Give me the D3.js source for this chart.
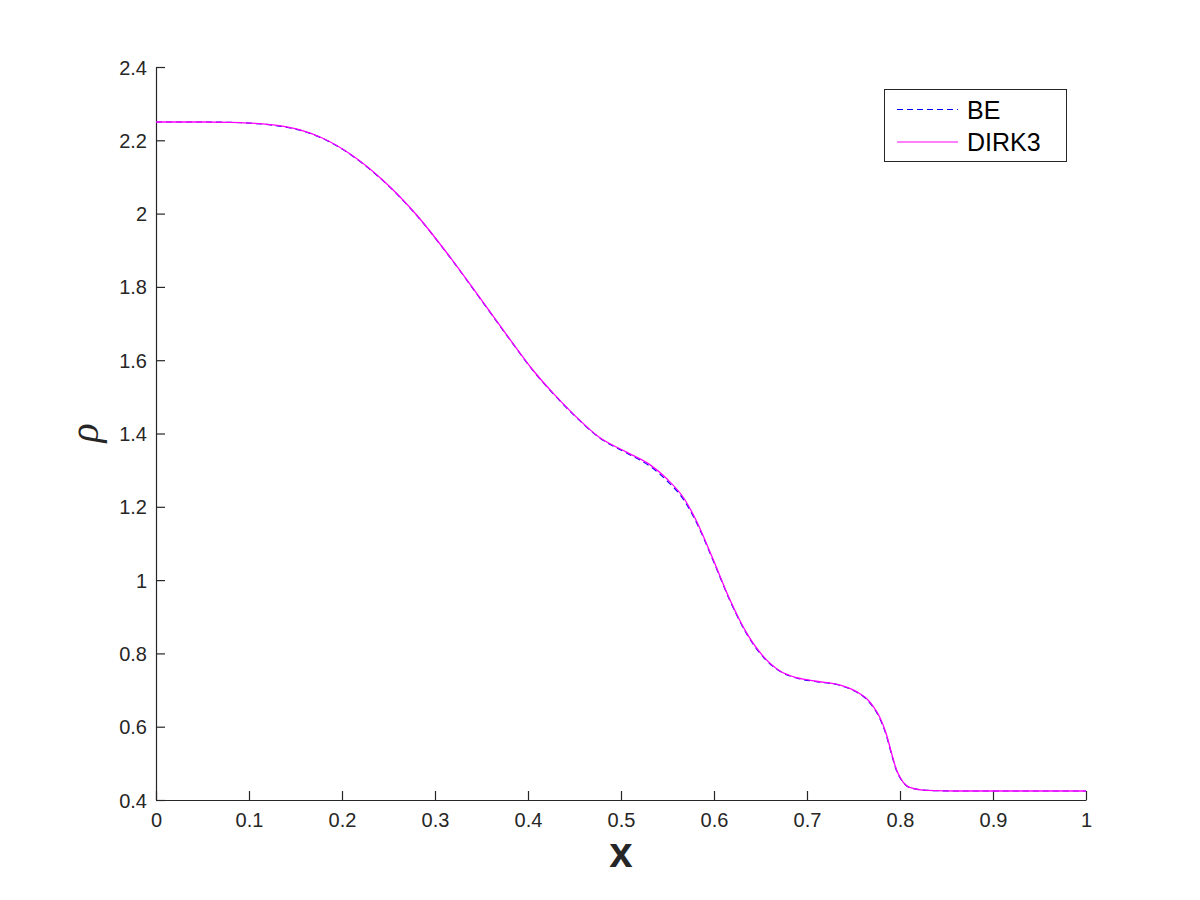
<!DOCTYPE html>
<html>
<head>
<meta charset="utf-8">
<script src="https://cdn.jsdelivr.net/npm/d3@7"></script>
<style>
  html, body { margin: 0; padding: 0; background: #fff; }
  svg { display: block; }
</style>
</head>
<body>
<svg id="chart" width="1200" height="900"></svg>
<script>
// ---- data ----
const xValues = [0, 0.05, 0.08, 0.1, 0.126, 0.154, 0.18, 0.208, 0.244, 0.28, 0.316, 0.352, 0.38, 0.405, 0.427, 0.448, 0.477, 0.506, 0.531, 0.549, 0.568, 0.581, 0.599, 0.617, 0.635, 0.653, 0.671, 0.69, 0.71, 0.735, 0.749, 0.757, 0.764, 0.771, 0.778, 0.785, 0.791, 0.796, 0.8, 0.807, 0.815, 0.825, 0.84, 0.861, 0.9, 0.95, 1.0];
const dirk3Rho = [2.25, 2.25, 2.249, 2.247, 2.242, 2.229, 2.205, 2.164, 2.091, 1.997, 1.882, 1.757, 1.659, 1.574, 1.510, 1.455, 1.389, 1.349, 1.315, 1.277, 1.222, 1.162, 1.057, 0.947, 0.856, 0.792, 0.752, 0.733, 0.724, 0.714, 0.701, 0.690, 0.677, 0.656, 0.627, 0.582, 0.527, 0.484, 0.462, 0.439, 0.431, 0.427, 0.4255, 0.4245, 0.4245, 0.4245, 0.4245];
const beRho    = [2.25, 2.25, 2.249, 2.247, 2.241, 2.228, 2.204, 2.163, 2.090, 1.996, 1.881, 1.756, 1.658, 1.573, 1.509, 1.454, 1.388, 1.347, 1.311, 1.272, 1.217, 1.158, 1.054, 0.945, 0.854, 0.790, 0.751, 0.732, 0.723, 0.713, 0.700, 0.689, 0.675, 0.654, 0.624, 0.579, 0.524, 0.482, 0.461, 0.439, 0.431, 0.427, 0.4255, 0.4245, 0.4245, 0.4245, 0.4245];
const xTicks = [0, 0.1, 0.2, 0.3, 0.4, 0.5, 0.6, 0.7, 0.8, 0.9, 1];
const xTickLabels = ["0", "0.1", "0.2", "0.3", "0.4", "0.5", "0.6", "0.7", "0.8", "0.9", "1"];
const yTicks = [0.4, 0.6, 0.8, 1.0, 1.2, 1.4, 1.6, 1.8, 2.0, 2.2, 2.4];
const yTickLabels = ["0.4", "0.6", "0.8", "1", "1.2", "1.4", "1.6", "1.8", "2", "2.2", "2.4"];
const seriesNames = ["BE", "DIRK3"];

// ---- layout ----
const plotLeft = 156, plotRight = 1086, plotTop = 67, plotBottom = 800;
const axisColor = "#262626";
const svg = d3.select("#chart");

const x = d3.scaleLinear().domain([0, 1]).range([plotLeft, plotRight]);
const y = d3.scaleLinear().domain([0.4, 2.4]).range([plotBottom, plotTop]);

// axes
const xAxis = d3.axisBottom(x).tickValues(xTicks).tickSizeInner(-9).tickSizeOuter(0).tickPadding(13)
  .tickFormat((d, i) => xTickLabels[i]);
const yAxis = d3.axisLeft(y).tickValues(yTicks).tickSizeInner(-9).tickSizeOuter(0).tickPadding(9)
  .tickFormat((d, i) => yTickLabels[i]);

const gx = svg.append("g").attr("transform", `translate(0,${plotBottom})`).call(xAxis);
const gy = svg.append("g").attr("transform", `translate(${plotLeft},0)`).call(yAxis);
[gx, gy].forEach(g => {
  g.select(".domain").attr("stroke", axisColor).attr("stroke-width", 1.2);
  g.selectAll(".tick line").attr("stroke", axisColor).attr("stroke-width", 1.2);
  g.selectAll(".tick text").attr("fill", axisColor)
    .style("font-family", "'Liberation Sans', Arial, Helvetica, sans-serif")
    .style("font-size", "20px");
});
gy.selectAll(".tick text").attr("dy", "0.35em");

// lines
const line = d3.line().x((d, i) => x(xValues[i])).y(d => y(d)).curve(d3.curveMonotoneX);

svg.append("path").datum(beRho).attr("d", line)
  .attr("fill", "none").attr("stroke", "#0000ff").attr("stroke-width", 1.2)
  .attr("stroke-dasharray", "6,4");
svg.append("path").datum(dirk3Rho).attr("d", line)
  .attr("fill", "none").attr("stroke", "#ff00ff").attr("stroke-width", 1.3);

// axis labels
svg.append("text").attr("x", 621).attr("y", 867).attr("text-anchor", "middle")
  .style("font-family", "'Liberation Sans', Arial, Helvetica, sans-serif")
  .style("font-weight", "bold").style("font-size", "42px").attr("fill", axisColor).text("x");

svg.append("text").attr("transform", "translate(98,433) rotate(-90)").attr("text-anchor", "middle")
  .style("font-family", "'Liberation Serif', 'Times New Roman', serif")
  .style("font-style", "italic").style("font-size", "40px").attr("fill", axisColor).text("ρ");

// legend
const lg = svg.append("g");
lg.append("rect").attr("x", 884.5).attr("y", 89.5).attr("width", 182).attr("height", 72)
  .attr("fill", "#fff").attr("stroke", axisColor).attr("stroke-width", 1);
const legendStyles = [
  { color: "#0000ff", dash: "6,4", y: 109.5 },
  { color: "#ff00ff", dash: null, y: 142 }
];
seriesNames.forEach((name, i) => {
  const s = legendStyles[i];
  lg.append("line").attr("x1", 897).attr("x2", 958).attr("y1", s.y).attr("y2", s.y)
    .attr("stroke", s.color).attr("stroke-width", 1.2)
    .attr("stroke-dasharray", s.dash);
  lg.append("text").attr("x", 967).attr("y", s.y).attr("dy", "0.36em")
    .style("font-family", "'Liberation Sans', Arial, Helvetica, sans-serif")
    .style("font-size", "25px").attr("fill", "#000").text(name);
});
</script>
</body>
</html>
